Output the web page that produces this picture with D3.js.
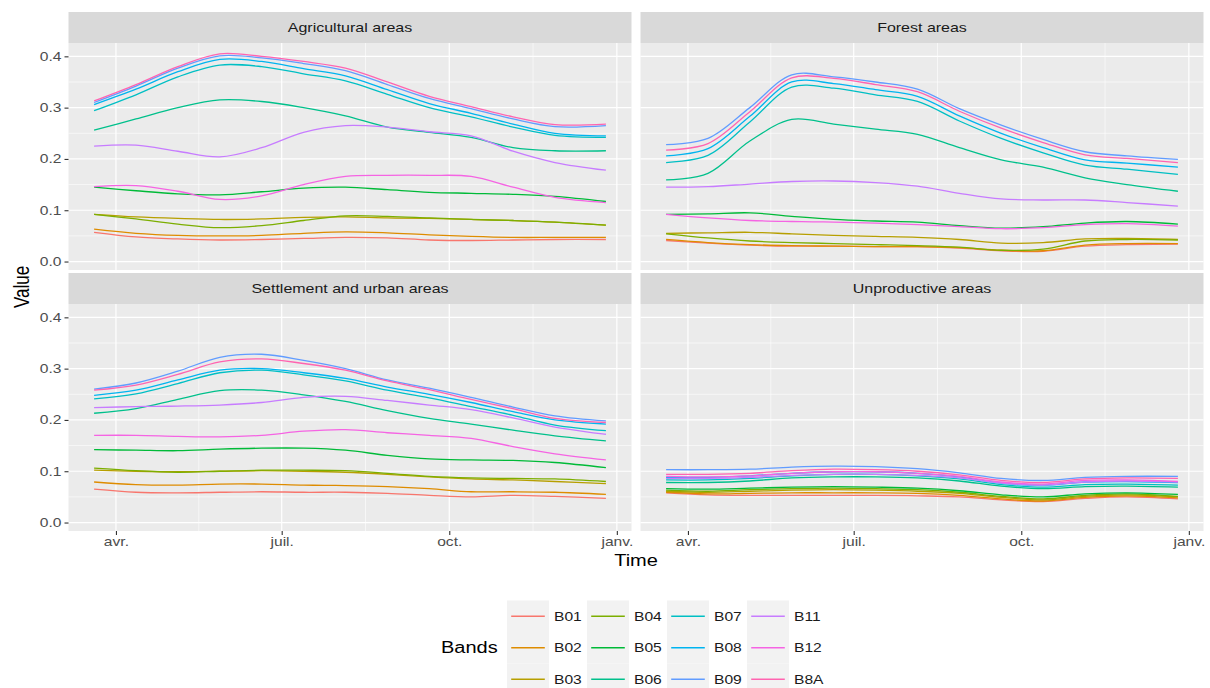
<!DOCTYPE html>
<html>

<head>
    <meta charset="utf-8">
    <title>Bands</title>
    <script src="https://cdn.jsdelivr.net/npm/d3@7"></script>
    <style>
        body { margin: 0; background: #fff; }
        text { font-family: "Liberation Sans", Arial, sans-serif; }
    </style>
</head>

<body>
    <svg width="1210" height="688" id="mainsvg"></svg>
    <script>
        // ---- data ----
        const dates = ['2019-03-20', '2019-04-12', '2019-05-05', '2019-05-28', '2019-06-20', '2019-07-13', '2019-08-05',
            '2019-08-28', '2019-09-20', '2019-10-13', '2019-11-05', '2019-11-28', '2019-12-26'];
        const bands = ['B01', 'B02', 'B03', 'B04', 'B05', 'B06', 'B07', 'B08', 'B09', 'B11', 'B12', 'B8A'];
        const bandColors = ['#F8766D', '#DE8C00', '#B79F00', '#7CAE00', '#00BA38', '#00C08B',
            '#00BFC4', '#00B4F0', '#619CFF', '#C77CFF', '#F564E3', '#FF64B0'];
        const areas = ['Agricultural areas', 'Forest areas', 'Settlement and urban areas', 'Unproductive areas'];
        const monthTicks = ['2019-04-01', '2019-07-01', '2019-10-01', '2020-01-01'];
        const monthLabels = ['avr.', 'juil.', 'oct.', 'janv.'];
        const valueTicks = [0, 0.1, 0.2, 0.3, 0.4];

        const agricultural = {
            B01: [0.057, 0.048, 0.044, 0.042, 0.043, 0.045, 0.047, 0.046, 0.042, 0.041, 0.042, 0.043, 0.043],
            B02: [0.063, 0.055, 0.051, 0.050, 0.051, 0.055, 0.058, 0.056, 0.052, 0.049, 0.047, 0.047, 0.047],
            B03: [0.092, 0.087, 0.084, 0.082, 0.083, 0.086, 0.087, 0.085, 0.084, 0.082, 0.080, 0.077, 0.071],
            B04: [0.092, 0.083, 0.073, 0.066, 0.070, 0.080, 0.089, 0.088, 0.085, 0.082, 0.080, 0.077, 0.071],
            B05: [0.145, 0.138, 0.132, 0.130, 0.136, 0.143, 0.145, 0.140, 0.135, 0.133, 0.131, 0.127, 0.117],
            B06: [0.256, 0.278, 0.300, 0.315, 0.312, 0.300, 0.284, 0.262, 0.252, 0.242, 0.222, 0.216, 0.216],
            B07: [0.294, 0.325, 0.360, 0.383, 0.380, 0.366, 0.352, 0.326, 0.300, 0.282, 0.262, 0.246, 0.242],
            B08: [0.306, 0.336, 0.370, 0.394, 0.390, 0.376, 0.362, 0.335, 0.308, 0.289, 0.268, 0.250, 0.245],
            B09: [0.310, 0.342, 0.377, 0.401, 0.397, 0.386, 0.372, 0.345, 0.318, 0.298, 0.278, 0.263, 0.265],
            B11: [0.225, 0.227, 0.215, 0.204, 0.222, 0.252, 0.265, 0.262, 0.253, 0.245, 0.215, 0.193, 0.178],
            B12: [0.146, 0.148, 0.137, 0.121, 0.128, 0.150, 0.166, 0.168, 0.168, 0.166, 0.145, 0.125, 0.115],
            B8A: [0.313, 0.345, 0.380, 0.405, 0.400, 0.390, 0.377, 0.350, 0.322, 0.302, 0.282, 0.267, 0.268]
        };
        const forest = {
            B01: [0.041, 0.036, 0.032, 0.030, 0.030, 0.029, 0.029, 0.026, 0.021, 0.020, 0.030, 0.033, 0.034],
            B02: [0.043, 0.037, 0.033, 0.031, 0.030, 0.029, 0.029, 0.027, 0.022, 0.021, 0.032, 0.035, 0.035],
            B03: [0.055, 0.056, 0.057, 0.054, 0.051, 0.049, 0.047, 0.043, 0.036, 0.037, 0.044, 0.045, 0.043],
            B04: [0.054, 0.046, 0.040, 0.037, 0.035, 0.033, 0.031, 0.028, 0.022, 0.024, 0.040, 0.043, 0.042],
            B05: [0.092, 0.093, 0.095, 0.088, 0.082, 0.079, 0.077, 0.070, 0.065, 0.068, 0.075, 0.078, 0.073],
            B06: [0.159, 0.172, 0.235, 0.277, 0.268, 0.258, 0.248, 0.222, 0.198, 0.184, 0.163, 0.150, 0.137],
            B07: [0.193, 0.207, 0.272, 0.340, 0.338, 0.325, 0.312, 0.274, 0.240, 0.212, 0.188, 0.180, 0.170],
            B08: [0.206, 0.220, 0.283, 0.350, 0.347, 0.335, 0.322, 0.284, 0.250, 0.222, 0.198, 0.192, 0.184],
            B09: [0.228, 0.240, 0.300, 0.364, 0.360, 0.350, 0.336, 0.298, 0.266, 0.238, 0.214, 0.206, 0.199],
            B11: [0.145, 0.146, 0.151, 0.156, 0.157, 0.154, 0.147, 0.133, 0.122, 0.120, 0.120, 0.115, 0.108],
            B12: [0.092, 0.085, 0.080, 0.078, 0.077, 0.075, 0.072, 0.068, 0.064, 0.066, 0.072, 0.074, 0.069],
            B8A: [0.217, 0.230, 0.292, 0.358, 0.357, 0.345, 0.331, 0.293, 0.260, 0.232, 0.208, 0.201, 0.193]
        };
        const settlement = {
            B01: [0.065, 0.059, 0.058, 0.059, 0.060, 0.059, 0.059, 0.057, 0.053, 0.050, 0.053, 0.051, 0.047],
            B02: [0.079, 0.074, 0.073, 0.075, 0.075, 0.073, 0.072, 0.070, 0.066, 0.060, 0.060, 0.059, 0.055],
            B03: [0.102, 0.100, 0.099, 0.100, 0.101, 0.100, 0.098, 0.094, 0.089, 0.085, 0.083, 0.080, 0.076],
            B04: [0.106, 0.101, 0.098, 0.100, 0.102, 0.102, 0.101, 0.096, 0.090, 0.087, 0.086, 0.085, 0.080],
            B05: [0.142, 0.141, 0.140, 0.143, 0.145, 0.145, 0.141, 0.131, 0.124, 0.122, 0.121, 0.117, 0.107],
            B06: [0.213, 0.222, 0.240, 0.257, 0.258, 0.249, 0.236, 0.218, 0.203, 0.192, 0.180, 0.169, 0.159],
            B07: [0.241, 0.251, 0.271, 0.292, 0.297, 0.288, 0.276, 0.258, 0.243, 0.226, 0.209, 0.190, 0.179],
            B08: [0.248, 0.258, 0.278, 0.297, 0.300, 0.292, 0.281, 0.264, 0.250, 0.234, 0.216, 0.200, 0.192],
            B09: [0.260, 0.272, 0.295, 0.322, 0.328, 0.316, 0.300, 0.278, 0.262, 0.244, 0.225, 0.208, 0.198],
            B11: [0.224, 0.226, 0.227, 0.229, 0.234, 0.244, 0.246, 0.238, 0.229, 0.220, 0.204, 0.186, 0.172],
            B12: [0.170, 0.170, 0.168, 0.167, 0.170, 0.178, 0.181, 0.175, 0.170, 0.164, 0.148, 0.134, 0.122],
            B8A: [0.258, 0.268, 0.289, 0.313, 0.319, 0.310, 0.297, 0.276, 0.259, 0.240, 0.222, 0.203, 0.195]
        };
        const unproductive = {
            B01: [0.058, 0.054, 0.053, 0.053, 0.053, 0.053, 0.052, 0.050, 0.044, 0.041, 0.047, 0.050, 0.046],
            B02: [0.059, 0.056, 0.057, 0.058, 0.058, 0.058, 0.057, 0.053, 0.046, 0.042, 0.049, 0.052, 0.048],
            B03: [0.061, 0.059, 0.061, 0.063, 0.064, 0.063, 0.061, 0.057, 0.049, 0.044, 0.051, 0.054, 0.050],
            B04: [0.063, 0.061, 0.064, 0.066, 0.067, 0.066, 0.064, 0.059, 0.051, 0.046, 0.053, 0.056, 0.051],
            B05: [0.066, 0.065, 0.067, 0.069, 0.070, 0.069, 0.067, 0.062, 0.054, 0.050, 0.056, 0.058, 0.055],
            B06: [0.078, 0.078, 0.081, 0.087, 0.089, 0.089, 0.087, 0.081, 0.071, 0.066, 0.070, 0.071, 0.069],
            B07: [0.083, 0.083, 0.086, 0.091, 0.094, 0.094, 0.091, 0.085, 0.074, 0.069, 0.074, 0.075, 0.073],
            B08: [0.088, 0.088, 0.091, 0.096, 0.099, 0.099, 0.096, 0.089, 0.077, 0.073, 0.079, 0.080, 0.078],
            B09: [0.103, 0.103, 0.104, 0.108, 0.110, 0.109, 0.105, 0.097, 0.086, 0.082, 0.088, 0.090, 0.090],
            B11: [0.086, 0.086, 0.088, 0.092, 0.094, 0.094, 0.092, 0.087, 0.077, 0.073, 0.079, 0.081, 0.079],
            B12: [0.090, 0.089, 0.091, 0.096, 0.099, 0.099, 0.096, 0.090, 0.079, 0.075, 0.082, 0.083, 0.080],
            B8A: [0.094, 0.094, 0.096, 0.101, 0.104, 0.103, 0.100, 0.093, 0.082, 0.078, 0.085, 0.087, 0.086]
        };
        const areaData = [agricultural, forest, settlement, unproductive];

        // ---- layout ----
        const svg = d3.select('svg');
        const parse = d3.timeParse('%Y-%m-%d');
        const time = dates.map(parse);
        const color = d3.scaleOrdinal().domain(bands).range(bandColors);

        const panelW = 563, panelH = 227, stripH = 31;
        const colX = [68.5, 640.5];
        const rowY = [43, 304];
        const SX = 1.25; // the picture is wider than tall, text glyphs are stretched sideways

        const [t0, t1] = d3.extent(time);
        const pad = (t1 - t0) * 0.05;
        const x = d3.scaleTime().domain([new Date(+t0 - pad), new Date(+t1 + pad)]).range([0, panelW]);
        const y = d3.scaleLinear().domain([-0.0165, 0.426]).range([panelH, 0]);

        const majorX = monthTicks.map(parse);
        const minorX = d3.pairs(majorX).map(([a, b]) => new Date((+a + +b) / 2));
        const minorY = d3.pairs(valueTicks).map(([a, b]) => (a + b) / 2);

        const line = d3.line().x((d, i) => x(time[i])).y(d => y(d)).curve(d3.curveCatmullRom.alpha(0.5));

        // stretched text helper
        const label = (parent, px, py, str, size, anchor, fill, rot) => parent.append('text')
            .attr('transform', `translate(${px},${py}) scale(${SX},1)` + (rot ? ` rotate(${rot})` : ''))
            .attr('text-anchor', anchor).attr('dy', '0.35em')
            .attr('font-size', size).attr('fill', fill).text(str);

        const stretchAxisText = sel => sel.each(function () {
            const t = d3.select(this);
            const tx = +t.attr('x') || 0, ty = +t.attr('y') || 0;
            t.attr('x', 0).attr('y', 0).attr('transform', `translate(${tx},${ty}) scale(${SX},1)`)
                .attr('font-size', 12.5).attr('fill', '#4D4D4D').attr('font-family', '"Liberation Sans", Arial, sans-serif');
        });

        areas.forEach((area, k) => {
            const col = k % 2, row = Math.floor(k / 2);
            const g = svg.append('g').attr('transform', `translate(${colX[col]},${rowY[row]})`);

            // strip
            g.append('rect').attr('x', 0).attr('y', -stripH).attr('width', panelW).attr('height', stripH).attr('fill', '#D9D9D9');
            label(g, panelW / 2, -stripH / 2, area, 12.8, 'middle', '#1A1A1A');

            // panel + grid
            g.append('rect').attr('width', panelW).attr('height', panelH).attr('fill', '#EBEBEB');
            g.selectAll('.minY').data(minorY).join('line')
                .attr('x1', 0).attr('x2', panelW).attr('y1', d => y(d)).attr('y2', d => y(d))
                .attr('stroke', '#fff').attr('stroke-width', 0.6);
            g.selectAll('.minX').data(minorX).join('line')
                .attr('y1', 0).attr('y2', panelH).attr('x1', d => x(d)).attr('x2', d => x(d))
                .attr('stroke', '#fff').attr('stroke-width', 0.6);
            g.selectAll('.majY').data(valueTicks).join('line')
                .attr('x1', 0).attr('x2', panelW).attr('y1', d => y(d)).attr('y2', d => y(d))
                .attr('stroke', '#fff').attr('stroke-width', 1.2);
            g.selectAll('.majX').data(majorX).join('line')
                .attr('y1', 0).attr('y2', panelH).attr('x1', d => x(d)).attr('x2', d => x(d))
                .attr('stroke', '#fff').attr('stroke-width', 1.2);

            // lines
            const rows = bands.map(b => ({ band: b, values: areaData[k][b] }));
            g.selectAll('.band').data(rows).join('path').attr('class', 'band')
                .attr('d', d => line(d.values)).attr('fill', 'none')
                .attr('stroke', d => color(d.band)).attr('stroke-width', 1.3);

            // y axis (left column only)
            if (col === 0) {
                const ya = g.append('g').call(d3.axisLeft(y).tickValues(valueTicks).tickSize(4).tickPadding(3).tickFormat(d3.format('.1f')));
                ya.select('.domain').remove();
                ya.selectAll('line').attr('stroke', '#333').attr('stroke-width', 1.1);
                stretchAxisText(ya.selectAll('text'));
            }
            // x axis (bottom row only)
            if (row === 1) {
                const xa = g.append('g').attr('transform', `translate(0,${panelH})`)
                    .call(d3.axisBottom(x).tickValues(majorX).tickSize(4).tickPadding(2)
                        .tickFormat((d, i) => monthLabels[i]));
                xa.select('.domain').remove();
                xa.selectAll('line').attr('stroke', '#333').attr('stroke-width', 1.1);
                stretchAxisText(xa.selectAll('text'));
            }
        });

        // axis titles
        label(svg, (colX[0] + colX[1] + panelW) / 2, 560, 'Time', 16, 'middle', '#000');
        label(svg, 22, (rowY[0] + rowY[1] + panelH) / 2, 'Value', 17, 'middle', '#000', -90);

        // legend
        const keyW = 42, keyH = 31.5, legTop = 600.5;
        const keyX = [507, 587, 667, 747];
        label(svg, 441, legTop + keyH * 1.5, 'Bands', 16, 'start', '#000');
        const leg = svg.selectAll('.key').data(bands).join('g').attr('class', 'key')
            .attr('transform', (d, i) => `translate(${keyX[Math.floor(i / 3)]},${legTop + (i % 3) * keyH})`);
        leg.append('rect').attr('width', keyW).attr('height', keyH).attr('fill', '#F2F2F2');
        leg.append('line').attr('x1', keyW * 0.1).attr('x2', keyW * 0.9).attr('y1', keyH / 2).attr('y2', keyH / 2)
            .attr('stroke', d => color(d)).attr('stroke-width', 1.4);
        leg.each(function (d) { label(d3.select(this), keyW + 5, keyH / 2, d, 12.5, 'start', '#1A1A1A'); });
    </script>
</body>

</html>
